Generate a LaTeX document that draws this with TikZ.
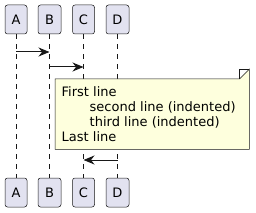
\documentclass[tikz,border=0pt]{standalone}
\usepackage{fontspec}
\setmainfont{DejaVu Sans}
\usetikzlibrary{arrows.meta}
\definecolor{partfill}{HTML}{E2E2F0}
\definecolor{linec}{HTML}{181818}
\definecolor{notefill}{HTML}{FEFFDD}
\begin{document}
\begin{tikzpicture}[x=1pt,y=-1pt,
 part/.style={draw=linec, fill=partfill, rounded corners=2.5pt, minimum width=22pt, minimum height=29pt, inner sep=0pt, font=\fontsize{13}{15}\selectfont, line width=0.5pt},
 life/.style={draw=linec, dash pattern=on 5pt off 5pt, line width=0.5pt},
 msg/.style={draw=linec, line width=1pt, -{Stealth[length=11pt,width=9pt,inset=3.5pt]}},
 notebox/.style={draw=linec, fill=notefill, line width=0.5pt}]
\useasboundingbox (0,0) rectangle (256,213);
% top participants
\node[part] (At) at (16,19.5) {A};
\node[part, minimum width=23pt] (Bt) at (49.5,19.5) {B};
\node[part] (Ct) at (83.5,19.5) {C};
\node[part, minimum width=23pt] (Dt) at (117.5,19.5) {D};
% bottom participants
\node[part] (Ab) at (16,192.5) {A};
\node[part, minimum width=23pt] (Bb) at (49.5,192.5) {B};
\node[part] (Cb) at (83.5,192.5) {C};
\node[part, minimum width=23pt] (Db) at (117.5,192.5) {D};
% lifelines
\foreach \p in {A,B,C,D} \draw[life] (\p t.south) -- (\p b.north);
% message points
\coordinate (a1) at (16,52);
\coordinate (b1) at (49.5,52);
\coordinate (b2) at (49.5,67);
\coordinate (c2) at (83.5,67);
\coordinate (d3) at (117.5,160);
\coordinate (c3) at (83.5,160);
\draw[msg] (a1) -- (b1);
\draw[msg] (b2) -- (c2);
% note
\node[inner sep=0pt, minimum width=194pt, minimum height=70pt, anchor=north west] (note) at (55,79) {};
\draw[notebox] (note.north west) -- ([xshift=-10pt]note.north east) -- ([yshift=10pt]note.north east) -- (note.south east) -- (note.south west) -- cycle;
\draw[draw=linec, line width=0.5pt] ([xshift=-10pt]note.north east) -- ([xshift=-10pt,yshift=10pt]note.north east) -- ([yshift=10pt]note.north east);
\node[anchor=north west, inner sep=0pt, align=left, font=\fontsize{13}{15.1}\selectfont] (notetext) at (61.5,86) {First line\\\hspace*{28pt}second line (indented)\\\hspace*{28pt}third line (indented)\\Last line};
\draw[msg] (d3) -- (c3);
\end{tikzpicture}
\end{document}
